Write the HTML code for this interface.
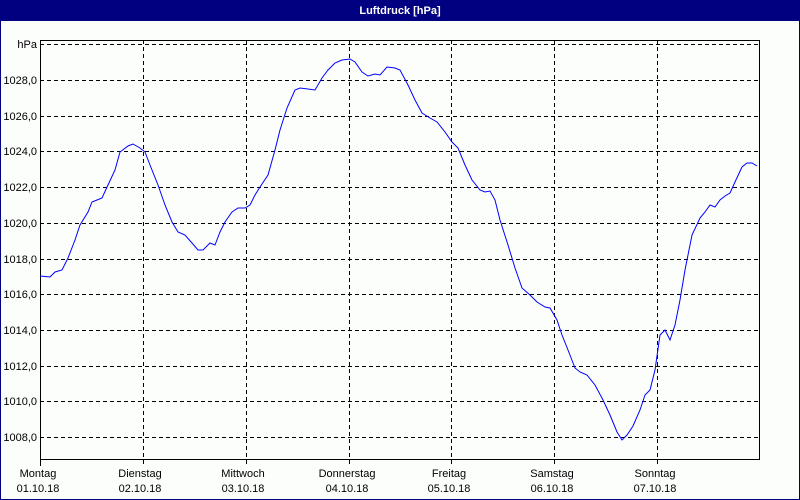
<!DOCTYPE html>
<html><head><meta charset="utf-8"><style>
html,body{margin:0;padding:0;background:#fff}
svg{display:block}
text{font-family:"Liberation Sans",sans-serif;font-size:11px;fill:#000}
</style></head><body>
<svg width="800" height="500" viewBox="0 0 800 500">
<rect x="0" y="0" width="800" height="500" fill="#000080"/>
<rect x="1" y="21" width="798" height="478" fill="#fcfefc"/>
<text x="400" y="14" text-anchor="middle" fill="#fff" style="fill:#fff;font-weight:bold;font-size:11px">Luftdruck [hPa]</text>
<g stroke="#000" stroke-width="1" stroke-dasharray="4,3" shape-rendering="crispEdges">
<line x1="40" y1="44.5" x2="760" y2="44.5"/>
<line x1="40" y1="80.5" x2="760" y2="80.5"/>
<line x1="40" y1="116.5" x2="760" y2="116.5"/>
<line x1="40" y1="151.5" x2="760" y2="151.5"/>
<line x1="40" y1="187.5" x2="760" y2="187.5"/>
<line x1="40" y1="223.5" x2="760" y2="223.5"/>
<line x1="40" y1="259.5" x2="760" y2="259.5"/>
<line x1="40" y1="294.5" x2="760" y2="294.5"/>
<line x1="40" y1="330.5" x2="760" y2="330.5"/>
<line x1="40" y1="366.5" x2="760" y2="366.5"/>
<line x1="40" y1="401.5" x2="760" y2="401.5"/>
<line x1="40" y1="437.5" x2="760" y2="437.5"/>
<line x1="143.5" y1="40" x2="143.5" y2="466"/>
<line x1="246.5" y1="40" x2="246.5" y2="466"/>
<line x1="349.5" y1="40" x2="349.5" y2="466"/>
<line x1="451.5" y1="40" x2="451.5" y2="466"/>
<line x1="554.5" y1="40" x2="554.5" y2="466"/>
<line x1="657.5" y1="40" x2="657.5" y2="466"/>
</g>
<rect x="40.5" y="40.5" width="719" height="419" fill="none" stroke="#000" stroke-width="1" shape-rendering="crispEdges"/>
<line x1="40.5" y1="460" x2="40.5" y2="466" stroke="#000" shape-rendering="crispEdges"/>
<g text-anchor="end">
<text x="37" y="48">hPa</text>
<text x="37" y="84">1028,0</text>
<text x="37" y="120">1026,0</text>
<text x="37" y="155">1024,0</text>
<text x="37" y="191">1022,0</text>
<text x="37" y="227">1020,0</text>
<text x="37" y="263">1018,0</text>
<text x="37" y="298">1016,0</text>
<text x="37" y="334">1014,0</text>
<text x="37" y="370">1012,0</text>
<text x="37" y="405">1010,0</text>
<text x="37" y="441">1008,0</text>
</g>
<g text-anchor="middle">
<text x="38" y="477">Montag</text><text x="38" y="492">01.10.18</text>
<text x="140" y="477">Dienstag</text><text x="140" y="492">02.10.18</text>
<text x="243" y="477">Mittwoch</text><text x="243" y="492">03.10.18</text>
<text x="347" y="477">Donnerstag</text><text x="347" y="492">04.10.18</text>
<text x="449" y="477">Freitag</text><text x="449" y="492">05.10.18</text>
<text x="552" y="477">Samstag</text><text x="552" y="492">06.10.18</text>
<text x="655" y="477">Sonntag</text><text x="655" y="492">07.10.18</text>
</g>
<polyline fill="none" stroke="#0000ff" stroke-width="1" points="40,276 50,277 55,272 62,270 68,258 75,240 80,225 88,212 92,202 97,200 102,198 108,185 115,170 120,152 128,146 133,144 140,148 145,152 150,165 158,185 165,205 172,222 178,232 185,235 192,243 198,250 203,250 210,243 215,245 220,232 225,222 232,212 238,208 245,208 250,205 255,195 260,187 268,175 275,150 280,130 287,108 295,90 300,88 308,89 315,90 322,78 328,70 335,63 342,60 350,59 355,62 362,72 368,76 375,74 380,75 387,67 395,68 400,70 408,85 415,100 422,113 430,118 437,122 445,132 452,142 458,148 465,165 472,180 480,190 485,192 490,191 495,200 500,220 508,245 515,268 522,288 530,295 537,302 545,307 550,308 557,320 562,335 568,350 575,368 580,372 587,375 595,385 603,400 610,415 617,432 622,440 627,435 633,426 640,410 645,395 650,390 655,370 660,335 665,330 670,340 675,325 680,300 685,270 692,235 700,218 705,212 710,205 715,207 720,200 725,196 730,193 735,182 742,167 747,163 752,163 757,166"/>
</svg>
</body></html>
